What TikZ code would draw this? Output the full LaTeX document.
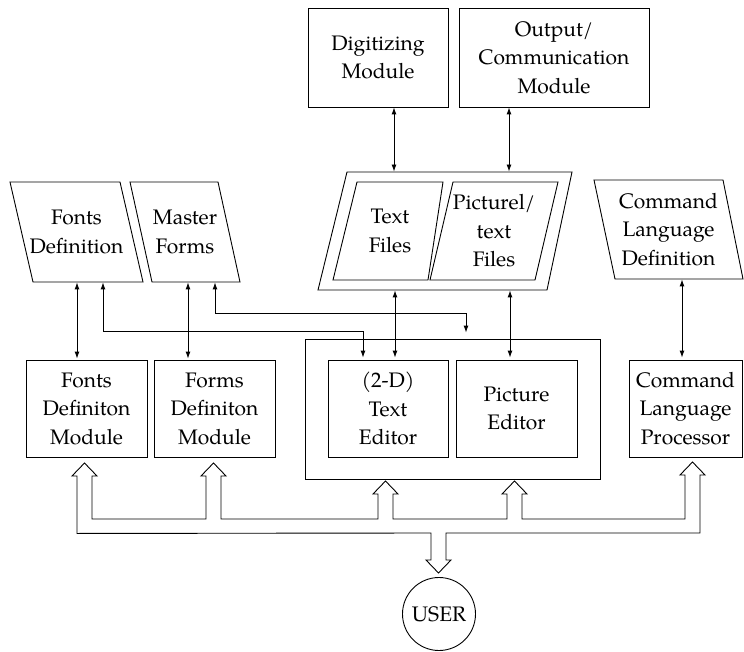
\documentclass[tikz,border=0pt]{standalone}
\usepackage{fontspec}
\setmainfont{TeX Gyre Pagella}
\usetikzlibrary{arrows.meta}
\tikzset{
  lbl/.style={align=center, inner sep=0pt, font=\fontsize{21}{28.5}\selectfont},
  box/.style={lbl, draw, minimum width=#1, minimum height=97pt},
  para/.style={lbl, minimum height=#1},
  conn/.style={{Latex[length=7pt,width=5pt]}-{Latex[length=7pt,width=5pt]}},
  line/.style={line width=0.9pt},
}
\begin{document}
\begin{tikzpicture}[x=1pt,y=-1pt,line/.append style={}, every path/.style={line width=0.9pt}]
\useasboundingbox (0,0) rectangle (744,652);

% top modules
\node[box=140pt, minimum height=99pt] (dm) at (378,57.5) {Digitizing\\Module};
\node[box=190pt, minimum height=99pt] (om) at (554,57.5) {Output/\\Communication\\Module};

% files group
\draw (347,172) -- (572,172) -- (547,290) -- (318,290) -- cycle;
\node[para=118pt] (fo) at (446,231) {};
\draw (357,182) -- (443,182) -- (428,280) -- (333,280) -- cycle;
\node[para=98pt] (tf) at (390,231) {Text\\Files};
\draw (453,182) -- (558,182) -- (535,280) -- (430,280) -- cycle;
\node[para=98pt] (pf) at (494,231) {Picturel/\\text\\Files};

% left definitions
\draw (10,182) -- (120,182) -- (143,282) -- (33,282) -- cycle;
\node[para=100pt] (fd) at (76.5,232) {Fonts\\Definition};
\draw (130,182) -- (218,182) -- (240,282) -- (152,282) -- cycle;
\node[para=100pt] (mf) at (185,232) {Master\\Forms};

% command language definition
\draw (594,180) -- (723,180) -- (743,279) -- (615,279) -- cycle;
\node[para=99pt] (cld) at (668.5,229.5) {Command\\Language\\Definition};

% module row
\node[box=121pt] (fdm) at (86.5,408.5) {Fonts\\Definiton\\Module};
\node[box=121pt] (frm) at (214.5,408.5) {Forms\\Definiton\\Module};
\node[draw, minimum width=295pt, minimum height=140pt, inner sep=0pt] (ef) at (452.5,409) {};
\node[box=120pt] (te) at (388,408.5) {(2-D)\\Text\\Editor};
\node[box=121pt] (pe) at (516.5,408.5) {Picture\\Editor};
\node[box=113pt] (clp) at (685.5,408.5) {Command\\Language\\Processor};

% user
\node[draw, circle, minimum size=73pt, inner sep=0pt, font=\fontsize{21}{24}\selectfont] (user) at (439,614) {USER};

% connectors
\draw[conn] (dm.south -| 394,0) -- (fo.north -| 394,0);
\draw[conn] (om.south -| 509,0) -- (fo.north -| 509,0);
\draw[conn] (fo.south -| 395,0) -- ([yshift=2pt]te.north -| 395,0);
\draw[conn] (fo.south -| 510,0) -- ([yshift=2pt]pe.north -| 510,0);
\draw[conn] (fd.south -| 77,0) -- ([yshift=1pt]fdm.north -| 77,0);
\draw[conn] (mf.south -| 188,0) -- ([yshift=1pt]frm.north -| 188,0);
\draw[conn] (cld.south -| 682,0) -- ([yshift=2pt]clp.north -| 682,0);
\draw[conn] (fd.south -| 103,0) |- (363,331) -- ([yshift=2pt]te.north -| 363,0);
\draw[conn] (mf.south -| 215,0) |- (466,313) -- ([yshift=6pt]ef.north -| 466,0);

% hollow bus arrows
\draw[line join=miter] (fdm.south -| 77,0) ++(0,76) -- (77,476) -- (72,476) -- (84.5,463) -- (97,476) -- (92,476)
  -- (92,519) -- (206,519) -- (206,476) -- (201,476) -- (213.5,463) -- (226,476) -- (221,476)
  -- (221,519) -- (378,519) -- (378,494) -- (373,494) -- (385.5,481) -- (398,494) -- (393,494)
  -- (393,519) -- (507,519) -- (507,494) -- (502,494) -- (514.5,481) -- (527,494) -- (522,494)
  -- (522,519) -- (685,519) -- (685,475) -- (680,475) -- (692.5,462) -- (705,475) -- (700,475)
  -- (700,533) -- (446,533) -- (446,560) -- (451,560) -- (438.5,573) -- (426,560) -- (431,560)
  -- (431,533) -- cycle;
\end{tikzpicture}
\end{document}
